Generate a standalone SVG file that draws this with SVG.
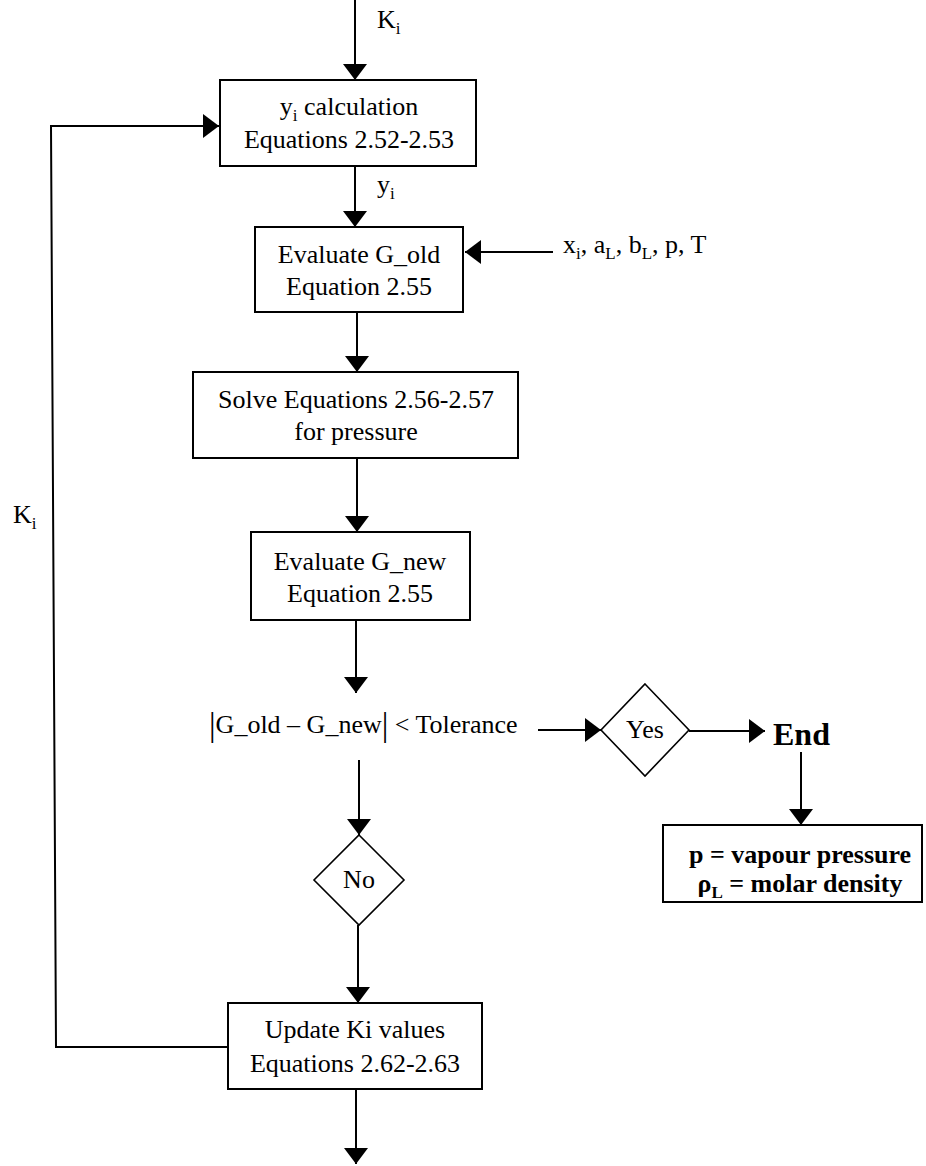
<svg xmlns="http://www.w3.org/2000/svg" width="926" height="1166" viewBox="0 0 926 1166">
  <style>
    .box { fill: #fff; stroke: #000; stroke-width: 2; }
    .dia { fill: #fff; stroke: #000; stroke-width: 1.6; }
    .wire { fill: none; stroke: #000; stroke-width: 2; }
    text { font-family: "Liberation Serif", "Times New Roman", serif; font-size: 26px; fill: #000; }
    .c { text-anchor: middle; }
    .b { font-weight: bold; }
    .sub { font-size: 17px; }
    .bar { font-size: 33px; }
  </style>
  <defs>
    <marker id="arrow" viewBox="0 0 16 24" refX="16" refY="12" markerWidth="16" markerHeight="24" orient="auto" markerUnits="userSpaceOnUse">
      <path d="M0,0 L16,12 L0,24 z" fill="#000"/>
    </marker>
  </defs>
  <rect width="926" height="1166" fill="#fff"/>

  <!-- connectors -->
  <g id="connectors" class="wire" marker-end="url(#arrow)">
    <line x1="355" y1="0" x2="355" y2="80"/>
    <line x1="355" y1="166" x2="355" y2="227"/>
    <line x1="553" y1="252" x2="465" y2="252"/>
    <line x1="357" y1="312" x2="357" y2="372"/>
    <line x1="357" y1="458" x2="357" y2="532"/>
    <line x1="356" y1="620" x2="356" y2="693"/>
    <line x1="359" y1="760" x2="359" y2="835"/>
    <line x1="538" y1="730" x2="601" y2="730"/>
    <line x1="689" y1="731" x2="765" y2="731"/>
    <line x1="801" y1="752" x2="801" y2="825"/>
    <line x1="358" y1="925" x2="358" y2="1003"/>
    <line x1="356" y1="1089" x2="356" y2="1164"/>
    <path d="M228,1047 L56,1047 L51,126 L219,126"/>
  </g>

  <!-- edge labels -->
  <g id="labels">
    <text x="377" y="28">K<tspan class="sub" dy="6">i</tspan></text>
    <text x="377" y="193">y<tspan class="sub" dy="6">i</tspan></text>
    <text x="13" y="523">K<tspan class="sub" dy="6">i</tspan></text>
    <text x="563" y="253">x<tspan class="sub" dy="6">i</tspan><tspan dy="-6">, a</tspan><tspan class="sub" dy="6">L</tspan><tspan dy="-6">, b</tspan><tspan class="sub" dy="6">L</tspan><tspan dy="-6">, p, T</tspan></text>
  </g>

  <g id="yi-calc">
    <rect class="box" x="220" y="80" width="256" height="86"/>
    <text class="c" x="349" y="115">y<tspan class="sub" dy="6">i</tspan><tspan dy="-6"> calculation</tspan></text>
    <text class="c" x="349" y="148">Equations 2.52-2.53</text>
  </g>

  <g id="eval-gold">
    <rect class="box" x="255" y="227" width="208" height="85"/>
    <text class="c" x="359" y="263">Evaluate G_old</text>
    <text class="c" x="359" y="295">Equation 2.55</text>
  </g>

  <g id="solve">
    <rect class="box" x="193" y="372" width="325" height="86"/>
    <text class="c" x="356" y="408">Solve Equations 2.56-2.57</text>
    <text class="c" x="356" y="440">for pressure</text>
  </g>

  <g id="eval-gnew">
    <rect class="box" x="251" y="532" width="219" height="88"/>
    <text class="c" x="360" y="570">Evaluate G_new</text>
    <text class="c" x="360" y="602">Equation 2.55</text>
  </g>

  <g id="check">
    <text x="209" y="736"><tspan class="bar">|</tspan><tspan dy="-3">G_old – G_new</tspan><tspan class="bar" dy="3">|</tspan><tspan dy="-3"> &lt; Tolerance</tspan></text>
  </g>

  <g id="yes">
    <polygon class="dia" points="645,684 689,730 645,776 601,730"/>
    <text class="c" x="645" y="738">Yes</text>
  </g>

  <g id="end">
    <text class="b" x="773" y="745" style="font-size:32px">End</text>
  </g>

  <g id="result">
    <rect class="box" x="663" y="825" width="259" height="77"/>
    <text class="c b" x="800" y="863">p = vapour pressure</text>
    <text class="c b" x="800" y="892">ρ<tspan class="sub" dy="6">L</tspan><tspan dy="-6"> = molar density</tspan></text>
  </g>

  <g id="no">
    <polygon class="dia" points="359,835 404,880 359,925 314,880"/>
    <text class="c" x="359" y="888">No</text>
  </g>

  <g id="update">
    <rect class="box" x="228" y="1003" width="254" height="86"/>
    <text class="c" x="355" y="1038">Update Ki values</text>
    <text class="c" x="355" y="1072">Equations 2.62-2.63</text>
  </g>
</svg>
